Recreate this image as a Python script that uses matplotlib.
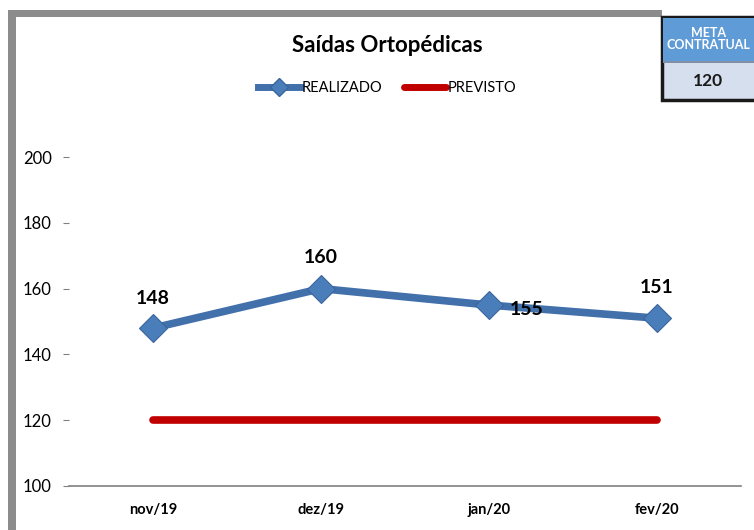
import matplotlib.pyplot as plt
from matplotlib.patches import Rectangle
from matplotlib.lines import Line2D

# dados
meses = ["nov/19", "dez/19", "jan/20", "fev/20"]
realizado = [148, 160, 155, 151]
previsto = [120, 120, 120, 120]
meta = 120

plt.rcParams['font.family'] = ['Lato', 'DejaVu Sans']

W, H = 754, 530
fig = plt.figure(figsize=(W / 100, H / 100), dpi=100)
fig.patch.set_facecolor('white')

def fx(px):
    return px / W

def fy(py):
    return 1 - py / H

# moldura cinza (esquerda e topo)
cinza = '#8c8c8c'
fig.patches.append(Rectangle((fx(8), 0), fx(8), fy(10), transform=fig.transFigure,
                             facecolor=cinza, edgecolor='none'))
fig.patches.append(Rectangle((fx(8), fy(17)), fx(654), 7 / H, transform=fig.transFigure,
                             facecolor=cinza, edgecolor='none'))

ax = fig.add_axes([fx(69), fy(486), fx(741 - 69), (486 - 157) / H])
x = list(range(len(meses)))

ax.plot(x, previsto, color='#c00000', lw=5.5, solid_capstyle='round', zorder=2)
ax.plot(x, realizado, color='#4170ab', lw=5.5, marker='D', markersize=14,
        markerfacecolor='#4a7ebb', markeredgecolor='#3a659c', markeredgewidth=0.8,
        solid_joinstyle='round', zorder=3)

# rótulos de dados
offsets = [(0, 15, 'center', 'bottom'), (0, 16, 'center', 'bottom'),
           (15, -3, 'left', 'center'), (0, 16, 'center', 'bottom')]
for i, v in enumerate(realizado):
    dx, dy, ha, va = offsets[i]
    ax.annotate(str(v), (x[i], v), xytext=(dx, dy), textcoords='offset points',
                ha=ha, va=va, fontsize=14, fontweight='bold', color='black')

ax.set_xlim(-0.5, 3.5)
ax.set_ylim(100, 200)
ax.set_yticks(range(100, 201, 20))
ax.set_xticks(x)
ax.set_xticklabels(meses, fontsize=10.5, fontweight='bold')
ax.tick_params(axis='x', length=0, pad=12)
ax.tick_params(axis='y', length=4.5, width=0.8, color='#808080', pad=8, labelsize=12)
for s in ['top', 'right', 'left']:
    ax.spines[s].set_visible(False)
ax.spines['bottom'].set_color('#808080')
ax.spines['bottom'].set_linewidth(1.2)
ax.set_facecolor('white')

# título e legenda
fig.text(fx(387), fy(45), "Saídas Ortopédicas", ha='center', va='center',
         fontsize=16, fontweight='bold')
handles = [Line2D([], [], color='#4170ab', lw=5, marker='D', markersize=9,
                  markerfacecolor='#4a7ebb', markeredgecolor='#3a659c'),
           Line2D([], [], color='#c00000', lw=5, solid_capstyle='round')]
fig.legend(handles, ["REALIZADO", "PREVISTO"], loc='center', bbox_to_anchor=(fx(387), fy(88)),
           ncol=2, frameon=False, fontsize=10.5, handlelength=2.9, handletextpad=0.1,
           columnspacing=1.5)

# caixa META CONTRATUAL
fig.patches.append(Rectangle((fx(662), fy(100)), fx(100), 83 / H, transform=fig.transFigure,
                             facecolor='#d6dfee', edgecolor='#1a1a1a', lw=2.5))
fig.patches.append(Rectangle((fx(663), fy(62)), fx(100), 44 / H, transform=fig.transFigure,
                             facecolor='#5f9bd6', edgecolor='none'))
fig.patches.append(Rectangle((fx(663), fy(63)), fx(100), 2 / H, transform=fig.transFigure,
                             facecolor='#7f8fa6', edgecolor='none'))
fig.text(fx(708), fy(39), "META\nCONTRATUAL", ha='center', va='center', fontsize=9,
         fontweight='bold', color='white', linespacing=1.05)
fig.text(fx(708), fy(81), str(meta), ha='center', va='center', fontsize=12.5,
         fontweight='bold', color='#1a1a1a')

fig.savefig('out.png', dpi=100, facecolor='white')
